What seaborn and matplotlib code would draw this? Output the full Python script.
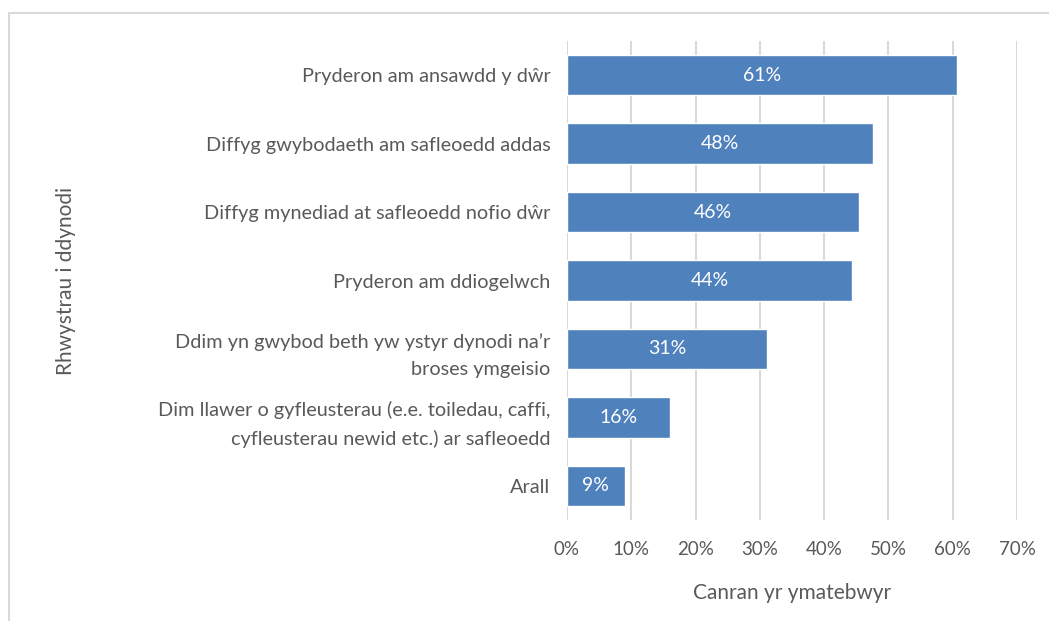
import matplotlib
matplotlib.use("Agg")
import matplotlib.pyplot as plt
import matplotlib.patches as mpatches
import seaborn as sns
import pandas as pd
import numpy as np

categories = [
    "Pryderon am ansawdd y dŵr",
    "Diffyg gwybodaeth am safleoedd addas",
    "Diffyg mynediad at safleoedd nofio dŵr",
    "Pryderon am ddiogelwch",
    "Ddim yn gwybod beth yw ystyr dynodi na’r\nbroses ymgeisio",
    "Dim llawer o gyfleusterau (e.e. toiledau, caffi,\ncyfleusterau newid etc.) ar safleoedd",
    "Arall",
]
percent = [60.6, 47.6, 45.5, 44.3, 31.1, 16.0, 9.0]
xticks = [0, 10, 20, 30, 40, 50, 60, 70]

grey = "#595959"
bar_blue = "#4f81bd"

sns.set_style("white")
plt.rcParams['font.family'] = ['Lato', 'DejaVu Sans']

df = pd.DataFrame({"cat": categories, "pct": percent})

fig = plt.figure(figsize=(10.49, 6.21), dpi=100)
ax = fig.add_axes([0.5405, 0.1626, 0.4290, 0.7714])

sns.barplot(data=df, y="cat", x="pct", orient="h", color=bar_blue,
            saturation=1, width=0.59, ax=ax, zorder=3)

ax.set_xlim(0, 70)
ax.set_xticks(xticks)
ax.set_xticklabels([f"{t}%" for t in xticks])
ax.grid(axis="x", color="#d9d9d9", linewidth=1.5, zorder=0)
ax.set_axisbelow(True)
for s in ax.spines.values():
    s.set_visible(False)

ax.tick_params(axis="x", length=0, pad=15, labelsize=13.5, labelcolor=grey)
ax.tick_params(axis="y", length=0, pad=12, labelsize=14.3, labelcolor=grey)
for lbl in ax.get_yticklabels():
    lbl.set_horizontalalignment("right")
    lbl.set_multialignment("right")
    lbl.set_linespacing(1.75)

ax.bar_label(ax.containers[0], labels=[f"{v:.0f}%" for v in percent],
             label_type="center", color="white", fontsize=14)

ax.set_xlabel("Canran yr ymatebwyr", color=grey, fontsize=15, labelpad=18)
ax.set_ylabel("Rhwystrau i ddynodi", color=grey, fontsize=15)
ax.yaxis.set_label_coords(-1.09, 0.5)

# chart area border (Excel style)
fig.patches.append(mpatches.Rectangle((9 / 1049, -0.05), 1.1, (621 - 13) / 621 + 0.05,
                                      transform=fig.transFigure, fill=False,
                                      edgecolor="#d9d9d9", linewidth=1.5))

fig.savefig("out.png", dpi=100)
